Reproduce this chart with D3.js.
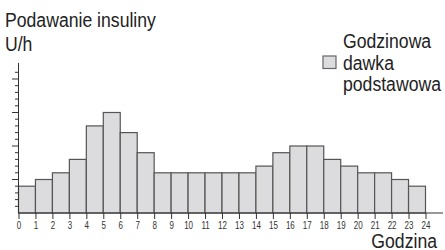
<!DOCTYPE html>
<html>
<head>
<meta charset="utf-8">
<script src="https://cdn.jsdelivr.net/npm/d3@7"></script>
<style>
  body { margin: 0; background: #fff; }
  text { font-family: "Liberation Sans", Arial, sans-serif; }
</style>
</head>
<body>
<div id="chart"></div>
<script>
// hourly basal dose, one value per hour 0-1 ... 23-24 (in minor-tick units)
var hourStarts = [0, 1, 2, 3, 4, 5, 6, 7, 8, 9, 10, 11, 12, 13, 14, 15, 16, 17, 18, 19, 20, 21, 22, 23];
var basalRates = [4, 5, 6, 8, 13, 15, 12, 9, 6, 6, 6, 6, 6, 6, 7, 9, 10, 10, 8, 7, 6, 6, 5, 4];
var hourLabels = [0, 1, 2, 3, 4, 5, 6, 7, 8, 9, 10, 11, 12, 13, 14, 15, 16, 17, 18, 19, 20, 21, 22, 23, 24];
var yTicks = [1, 2, 3, 4, 5, 6, 7, 8, 9, 10, 11, 12, 13, 14, 15, 16, 17, 18, 19, 20, 21];
var legendLines = ["Godzinowa", "dawka", "podstawowa"];

var width = 445, height = 250;
var narrow = 0.84; // no condensed font installed, squeeze Liberation Sans

var svg = d3.select("#chart")
  .append("svg")
    .attr("width", width)
    .attr("height", height);

var x = d3.scaleLinear()
  .domain([0, 24])
  .range([18.5, 425.5]);

var y = d3.scaleLinear()
  .domain([0, 20])
  .range([213, 79]);

// bars
svg.append("g")
  .selectAll("rect")
  .data(hourStarts)
  .join("rect")
    .attr("x", d => x(d))
    .attr("y", (d, i) => y(basalRates[i]))
    .attr("width", d => x(d + 1) - x(d))
    .attr("height", (d, i) => y(0) - y(basalRates[i]))
    .attr("fill", "#dcdcde")
    .attr("stroke", "#555")
    .attr("stroke-width", 1.2);

// y axis: minor ticks, every 5th longer
var yAxis = svg.append("g")
  .attr("transform", "translate(" + x(0) + ",0)");
yAxis.append("line")
  .attr("y1", y(22.4)).attr("y2", y(0))
  .attr("stroke", "#333");
yAxis.selectAll(".tick")
  .data(yTicks)
  .join("line")
    .attr("class", "tick")
    .attr("x1", d => d % 5 === 0 ? -6.5 : -3.5)
    .attr("x2", 0)
    .attr("y1", d => y(d))
    .attr("y2", d => y(d))
    .attr("stroke", "#333");

// x axis
var xAxis = svg.append("g")
  .attr("transform", "translate(0," + y(0) + ")")
  .call(d3.axisBottom(x).tickValues(hourLabels).tickSize(6).tickPadding(2).tickSizeOuter(0));
xAxis.select(".domain").remove();
xAxis.append("line")
  .attr("x1", x(0)).attr("x2", 443)
  .attr("stroke", "#333");
xAxis.selectAll(".tick line").attr("stroke", "#333");
xAxis.selectAll(".tick text")
  .attr("font-family", "Liberation Sans, Arial, sans-serif")
  .attr("font-size", 10)
  .attr("fill", "#333")
  .attr("dy", null)
  .attr("y", 16)
  .attr("transform", "scale(0.8,1)");

// squeezed label helper
function label(tx, ty, str, anchor) {
  svg.append("text")
    .attr("transform", "translate(" + tx + "," + ty + ") scale(" + narrow + ",1)")
    .attr("text-anchor", anchor || "start")
    .attr("font-size", 21)
    .attr("fill", "#222")
    .text(str);
}

label(5, 27, "Podawanie insuliny");
label(5, 51, "U/h");
label(437, 248, "Godzina", "end");

// legend
svg.append("rect")
  .attr("x", 323).attr("y", 56)
  .attr("width", 13).attr("height", 12.5)
  .attr("fill", "#dcdcde")
  .attr("stroke", "#666")
  .attr("stroke-width", 1.2);
legendLines.forEach((d, i) => label(343, 48 + i * 21.5, d));
</script>
</body>
</html>
